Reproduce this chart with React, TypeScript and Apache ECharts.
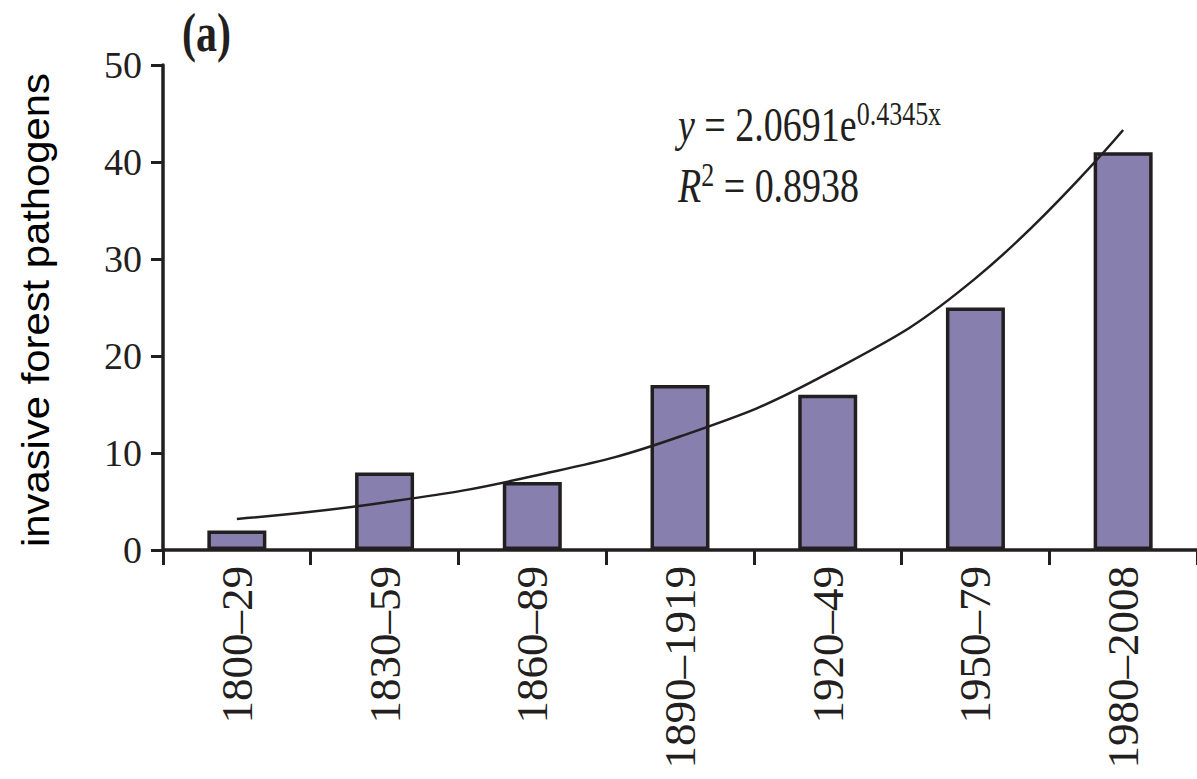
import React, { useEffect, useRef } from "react";
import * as echarts from "echarts";

const categories = ["1800–29", "1830–59", "1860–89", "1890–1919", "1920–49", "1950–79", "1980–2008"];
const pathogenCounts = [2, 8, 7, 17, 16, 25, 41];
// exponential trend curve, read at each category centre
const trendValues = [3.2, 4.9, 7.6, 11.7, 18.2, 28.0, 43.3];
const yTicks = { min: 0, max: 50, interval: 10 };

const INK = "#231f20";
const SERIF = "'Liberation Serif', 'Times New Roman', serif";
const SANS = "'Liberation Sans', Arial, sans-serif";

export default function App() {
  const ref = useRef<HTMLDivElement>(null);
  useEffect(() => {
    document.body.style.margin = "0";
    const chart = echarts.init(ref.current!, null, { renderer: "svg" });
    chart.setOption({
      animation: false,
      backgroundColor: "#ffffff",
      grid: { left: 163, top: 65, width: 1036, height: 485, containLabel: false },
      xAxis: {
        type: "category",
        data: categories,
        boundaryGap: true,
        axisLine: { show: true, lineStyle: { color: INK, width: 3.5 } },
        axisTick: { show: true, length: 15, alignWithLabel: false, interval: 0, lineStyle: { color: INK, width: 3 } },
        axisLabel: {
          rotate: 90,
          interval: 0,
          margin: 16,
          fontSize: 45,
          fontFamily: SERIF,
          color: INK,
        },
        splitLine: { show: false },
      },
      yAxis: {
        type: "value",
        min: yTicks.min,
        max: yTicks.max,
        interval: yTicks.interval,
        axisLine: { show: true, lineStyle: { color: INK, width: 3.5 } },
        axisTick: { show: true, length: 12, lineStyle: { color: INK, width: 3 } },
        axisLabel: { margin: 21, fontSize: 38, fontFamily: SERIF, color: INK },
        splitLine: { show: false },
      },
      series: [
        {
          type: "bar",
          data: pathogenCounts,
          barWidth: 59,
          itemStyle: { color: "#877fae", borderColor: INK, borderWidth: 3.5 },
          z: 2,
        },
        {
          type: "line",
          data: trendValues,
          smooth: 0.45,
          symbol: "none",
          lineStyle: { color: INK, width: 2.5 },
          z: 3,
        },
      ],
      graphic: [
        {
          type: "text",
          x: 182,
          y: 33,
          scaleY: 1.3,
          style: {
            text: "(a)",
            font: `bold 42px ${SERIF}`,
            fill: INK,
            textAlign: "left",
            textVerticalAlign: "middle",
          },
        },
        {
          type: "text",
          x: 36,
          y: 310,
          rotation: Math.PI / 2,
          scaleX: 1.1,
          style: {
            text: "invasive forest pathogens",
            font: `38px ${SANS}`,
            fill: "#000000",
            textAlign: "center",
            textVerticalAlign: "middle",
          },
        },
        {
          type: "text",
          x: 678,
          y: 125,
          scaleY: 1.3,
          style: {
            text: "{i|y}{n| = 2.0691e}{s|0.4345x}",
            textAlign: "left",
            textVerticalAlign: "middle",
            fill: INK,
            rich: {
              i: { fontFamily: SERIF, fontSize: 38, fontStyle: "italic", fill: INK, lineHeight: 44 },
              n: { fontFamily: SERIF, fontSize: 38, fill: INK, lineHeight: 44 },
              s: { fontFamily: SERIF, fontSize: 26, fill: INK, lineHeight: 26, verticalAlign: "top" },
            },
          },
        },
        {
          type: "text",
          x: 678,
          y: 186,
          scaleY: 1.3,
          style: {
            text: "{i|R}{s|2}{n| = 0.8938}",
            textAlign: "left",
            textVerticalAlign: "middle",
            fill: INK,
            rich: {
              i: { fontFamily: SERIF, fontSize: 38, fontStyle: "italic", fill: INK, lineHeight: 44 },
              n: { fontFamily: SERIF, fontSize: 38, fill: INK, lineHeight: 44 },
              s: { fontFamily: SERIF, fontSize: 26, fill: INK, lineHeight: 26, verticalAlign: "top" },
            },
          },
        },
      ],
    });
    return () => chart.dispose();
  }, []);
  return <div ref={ref} style={{ width: 1197, height: 779 }} />;
}
